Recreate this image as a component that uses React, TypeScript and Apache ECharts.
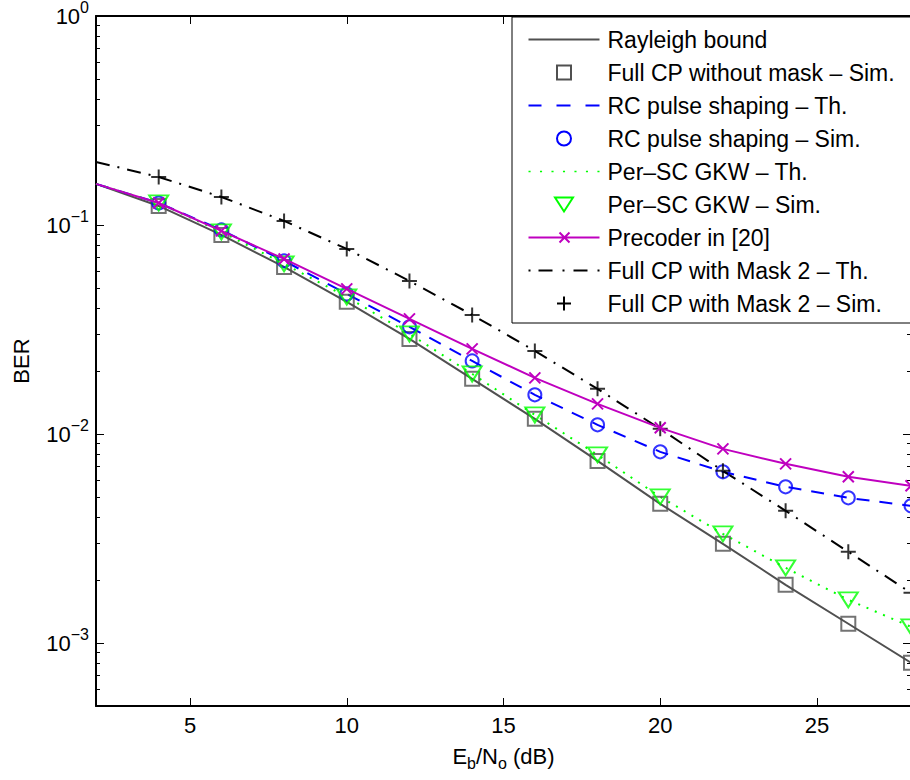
import React, { useEffect, useRef } from 'react';
import * as echarts from 'echarts';

// ---------- data ----------
const snr = [2, 4, 6, 8, 10, 12, 14, 16, 18, 20, 22, 24, 26, 28];
const snrSim = [4, 6, 8, 10, 12, 14, 16, 18, 20, 22, 24, 26, 28];

const rayleighBound = [0.1573, 0.1234, 0.0897, 0.063, 0.0429, 0.02852, 0.01837, 0.01182, 0.007441, 0.004637, 0.002985, 0.0019, 0.001237, 0.000805];
const fullCpSim = [0.1234, 0.0897, 0.063, 0.0429, 0.02852, 0.01837, 0.01182, 0.007441, 0.004637, 0.002985, 0.0019, 0.001237, 0.000805];
const rcTh = [0.1573, 0.1275, 0.09475, 0.06735, 0.04682, 0.03257, 0.02239, 0.0154, 0.01107, 0.008221, 0.006596, 0.005591, 0.004953, 0.004535];
const rcSim = [0.1275, 0.09475, 0.06735, 0.04682, 0.03257, 0.02239, 0.0154, 0.01107, 0.008221, 0.006596, 0.005591, 0.004953, 0.004535];
const gkwTh = [0.1573, 0.1275, 0.0927, 0.0652, 0.0453, 0.03014, 0.0194, 0.01235, 0.007951, 0.005007, 0.003332, 0.002291, 0.001611, 0.001196];
const gkwSim = [0.1275, 0.0927, 0.0652, 0.0453, 0.03014, 0.0194, 0.01235, 0.007951, 0.005007, 0.003332, 0.002291, 0.001611, 0.001196];
const precoder = [0.1573, 0.1275, 0.09372, 0.06884, 0.04947, 0.03556, 0.02556, 0.01857, 0.01394, 0.01071, 0.008494, 0.007203, 0.006243, 0.005655];
const mask2Th = [0.2003, 0.1698, 0.1362, 0.1046, 0.07686, 0.05403, 0.03716, 0.02499, 0.01645, 0.01059, 0.006668, 0.004293, 0.002733, 0.001739];
const mask2Sim = [0.1698, 0.1362, 0.1046, 0.07686, 0.05403, 0.03716, 0.02499, 0.01645, 0.01059, 0.006668, 0.004293, 0.002733, 0.001739];

const xTicks = [5, 10, 15, 20, 25];
const yMajorTicks = [0.001, 0.01, 0.1, 1];
const yMinorTicks = [
  0.0006, 0.0007, 0.0008, 0.0009,
  0.002, 0.003, 0.004, 0.005, 0.006, 0.007, 0.008, 0.009,
  0.02, 0.03, 0.04, 0.05, 0.06, 0.07, 0.08, 0.09,
  0.2, 0.3, 0.4, 0.5, 0.6, 0.7, 0.8, 0.9,
];

const names = [
  'Rayleigh bound',
  'Full CP without mask – Sim.',
  'RC pulse shaping – Th.',
  'RC pulse shaping – Sim.',
  'Per–SC GKW – Th.',
  'Per–SC GKW – Sim.',
  'Precoder in [20]',
  'Full CP with Mask 2 – Th.',
  'Full CP with Mask 2 – Sim.',
];

// ---------- styles ----------
const FONT = '"Liberation Sans", Arial, Helvetica, sans-serif';
const GRAY = '#505050';
const BLUE = '#0000ff';
const GREEN = '#00ff00';
const MAGENTA = '#bf00bf';
const BLACK = '#000000';

const TRI = 'path://M0,0 L18,0 L9,14 Z';
const PLUS = 'path://M7,0 L7,14 M0,7 L14,7';
const CROSS = 'path://M0,0 L10,10 M10,0 L0,10';
const SQUARE = 'path://M0,0 L14,0 L14,14 L0,14 Z';
const CIRCLE = 'path://M0,7 A7,7 0 1,1 14,7 A7,7 0 1,1 0,7 Z';

const pairs = (xs: number[], ys: number[]) => xs.map((x, i) => [x, ys[i]]);

function supLabel(v: number) {
  const k = Math.round(Math.log10(v));
  return '10{sup|' + (k === 0 ? '0' : '\u2212' + -k) + '}';
}

function buildOption() {
  const lineIcon = (d: string) => 'path://' + d;
  const legendLine = (c: string) => ({ color: c, borderColor: c, borderWidth: 0, opacity: 1, borderType: 'solid' });
  const legendMark = (c: string) => ({ color: 'none', borderColor: c, borderWidth: 2, opacity: 1, borderType: 'solid' });
  let dots = '';
  for (let i = 0; i < 7; i++) dots += `M${i * 11},6 h2 v1.6 h-2 Z `;

  const legendData = [
    { name: names[0], icon: lineIcon('M0,6 h71 v2 h-71 Z'), itemStyle: legendLine(GRAY) },
    { name: names[1], icon: SQUARE, itemStyle: legendMark(GRAY) },
    { name: names[2], icon: lineIcon('M0,6 h13 v2 h-13 Z M28,6 h14 v2 h-14 Z M57,6 h14 v2 h-14 Z'), itemStyle: legendLine(BLUE) },
    { name: names[3], icon: CIRCLE, itemStyle: legendMark(BLUE) },
    { name: names[4], icon: lineIcon(dots), itemStyle: legendLine(GREEN) },
    { name: names[5], icon: TRI, itemStyle: legendMark(GREEN) },
    { name: names[6], icon: lineIcon('M0,7 L71,7 M31,2 L41,12 M41,2 L31,12'), itemStyle: legendMark(MAGENTA) },
    { name: names[7], icon: lineIcon('M0,6 h2 v2 h-2 Z M10,6 h14 v2 h-14 Z M34,6 h2 v2 h-2 Z M45,6 h14 v2 h-14 Z M69,6 h2 v2 h-2 Z'), itemStyle: legendLine(BLACK) },
    { name: names[8], icon: PLUS, itemStyle: legendMark(BLACK) },
  ];

  const yBase = {
    type: 'log',
    logBase: 10,
    min: 0.0005,
    max: 1,
    splitLine: { show: false },
    minorTick: { show: false },
  };
  const xBase = {
    type: 'value',
    min: 2,
    max: 28,
    splitLine: { show: false },
  };

  return {
    animation: false,
    backgroundColor: '#ffffff',
    textStyle: { fontFamily: FONT },
    grid: { left: 96, right: -1, top: 16, bottom: 74, containLabel: false, outerBoundsMode: 'none' },
    xAxis: [
      {
        ...xBase,
        position: 'bottom',
        axisLine: { show: true, lineStyle: { color: BLACK, width: 2 } },
        axisTick: { show: true, inside: true, length: 8, lineStyle: { color: BLACK, width: 1 }, customValues: xTicks },
        axisLabel: { show: true, customValues: xTicks, fontSize: 22, color: BLACK, margin: 8, fontFamily: FONT },
        name: 'E{sub|b}/N{sub|o} (dB)',
        nameLocation: 'middle',
        nameGap: 36,
        nameTextStyle: {
          fontSize: 22,
          color: BLACK,
          fontFamily: FONT,
          lineHeight: 29,
          rich: { sub: { fontSize: 16, lineHeight: 16, padding: [13, 0, 0, 0], verticalAlign: 'bottom', color: BLACK, fontFamily: FONT } },
        },
      },
      {
        ...xBase,
        position: 'top',
        axisLine: { show: true, lineStyle: { color: BLACK, width: 2 } },
        axisTick: { show: true, inside: true, length: 8, lineStyle: { color: BLACK, width: 1 }, customValues: xTicks },
        axisLabel: { show: false },
      },
    ],
    yAxis: [
      {
        ...yBase,
        position: 'left',
        axisLine: { show: true, lineStyle: { color: BLACK, width: 2 } },
        axisTick: { show: true, inside: true, length: 8, lineStyle: { color: BLACK, width: 1 }, customValues: yMajorTicks },
        axisLabel: {
          show: true,
          customValues: yMajorTicks,
          formatter: (v: number) => supLabel(v),
          fontSize: 22,
          lineHeight: 34,
          color: BLACK,
          margin: 7,
          fontFamily: FONT,
          rich: { sup: { fontSize: 16, lineHeight: 16, verticalAlign: 'top', color: BLACK, fontFamily: FONT } },
        },
        name: 'BER',
        nameLocation: 'middle',
        nameGap: 64,
        nameTextStyle: { fontSize: 22, color: BLACK, fontFamily: FONT },
      },
      {
        ...yBase,
        position: 'left',
        axisLine: { show: false },
        axisTick: { show: true, inside: true, length: 4, lineStyle: { color: BLACK, width: 1 }, customValues: yMinorTicks },
        axisLabel: { show: false },
      },
      {
        ...yBase,
        position: 'right',
        axisLine: { show: true, lineStyle: { color: BLACK, width: 2 } },
        axisTick: { show: true, inside: true, length: 8, lineStyle: { color: BLACK, width: 1 }, customValues: yMajorTicks },
        axisLabel: { show: false },
      },
      {
        ...yBase,
        position: 'right',
        axisLine: { show: false },
        axisTick: { show: true, inside: true, length: 4, lineStyle: { color: BLACK, width: 1 }, customValues: yMinorTicks },
        axisLabel: { show: false },
      },
    ],
    legend: {
      orient: 'vertical',
      left: 512,
      top: 17,
      itemWidth: 71,
      itemHeight: 14,
      itemGap: 10,
      padding: [11, 16, 8, 14],
      borderColor: BLACK,
      borderWidth: 1,
      backgroundColor: '#ffffff',
      selectedMode: false,
      textStyle: { fontSize: 23, lineHeight: 23, color: BLACK, fontFamily: FONT, padding: [0, 0, 0, 3] },
      data: legendData,
    },
    series: [
      {
        name: names[0], type: 'line', data: pairs(snr, rayleighBound), symbol: 'none',
        lineStyle: { color: GRAY, width: 2 }, itemStyle: { color: GRAY }, z: 2,
      },
      {
        name: names[1], type: 'scatter', data: pairs(snrSim, fullCpSim), symbol: 'rect', symbolSize: 14,
        itemStyle: { color: 'none', borderColor: GRAY, borderWidth: 2 }, z: 3,
      },
      {
        name: names[2], type: 'line', data: pairs(snr, rcTh), symbol: 'none',
        lineStyle: { color: BLUE, width: 2, type: [13, 10] }, itemStyle: { color: BLUE }, z: 2,
      },
      {
        name: names[3], type: 'scatter', data: pairs(snrSim, rcSim), symbol: 'circle', symbolSize: 13,
        itemStyle: { color: 'none', borderColor: BLUE, borderWidth: 2 }, z: 3,
      },
      {
        name: names[4], type: 'line', data: pairs(snr, gkwTh), symbol: 'none',
        lineStyle: { color: GREEN, width: 2, type: [2, 7] }, itemStyle: { color: GREEN }, z: 2,
      },
      {
        name: names[5], type: 'scatter', data: pairs(snrSim, gkwSim), symbol: TRI, symbolSize: [19, 15],
        itemStyle: { color: 'none', borderColor: GREEN, borderWidth: 2 }, z: 3,
      },
      {
        name: names[6], type: 'line',
        data: snr.map((x, i) => (i === 0 ? { value: [x, precoder[i]], symbol: 'none' } : { value: [x, precoder[i]] })),
        symbol: CROSS, symbolSize: 11, showSymbol: true,
        lineStyle: { color: MAGENTA, width: 2 },
        itemStyle: { color: 'none', borderColor: MAGENTA, borderWidth: 2 }, z: 4,
      },
      {
        name: names[7], type: 'line', data: pairs(snr, mask2Th), symbol: 'none',
        lineStyle: { color: BLACK, width: 2, type: [14, 8, 2, 8] }, itemStyle: { color: BLACK }, z: 2,
      },
      {
        name: names[8], type: 'scatter', data: pairs(snrSim, mask2Sim), symbol: PLUS, symbolSize: 15,
        itemStyle: { color: 'none', borderColor: BLACK, borderWidth: 2 }, z: 3,
      },
    ],
  };
}

export default function App() {
  const ref = useRef<HTMLDivElement | null>(null);
  useEffect(() => {
    if (!ref.current) return;
    const chart = echarts.init(ref.current, null, { renderer: 'svg' });
    chart.setOption(buildOption() as any);
    return () => chart.dispose();
  }, []);
  return (
    <div
      ref={ref}
      style={{ position: 'fixed', left: 0, top: 0, width: 910, height: 780, background: '#fff' }}
    />
  );
}
